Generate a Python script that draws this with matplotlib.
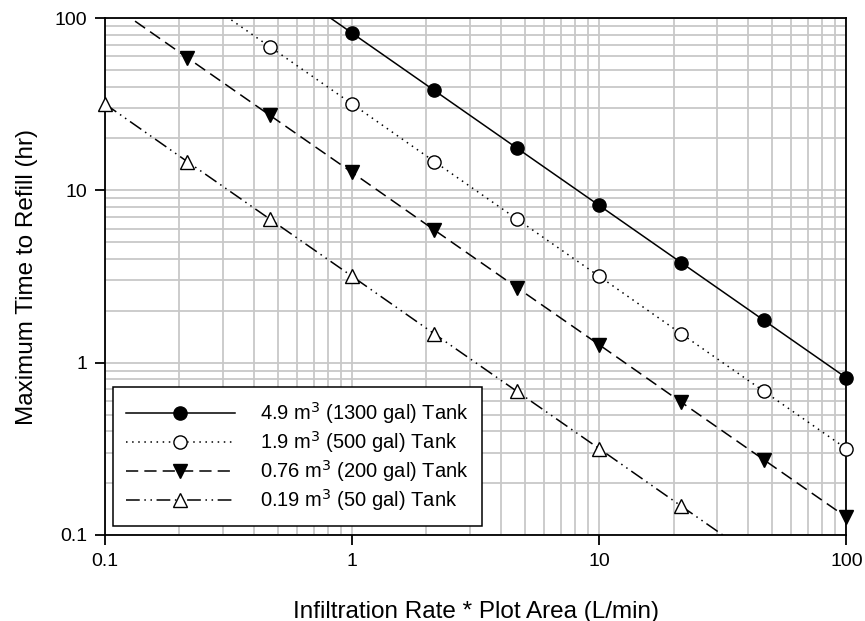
import numpy as np
import matplotlib
matplotlib.use("Agg")
import matplotlib.pyplot as plt
from matplotlib.ticker import LogLocator, NullFormatter, FixedLocator

plt.rcParams['font.family'] = ['Liberation Sans', 'DejaVu Sans']

# infiltration rate * plot area (L/min), three points per decade
flow = [0.1, 0.215, 0.464, 1.0, 2.15, 4.64, 10.0, 21.5, 46.4, 100.0]

# maximum time to refill (hr) for each tank size
t_1300 = [817, 380, 176, 81.7, 38.0, 17.6, 8.17, 3.80, 1.76, 0.817]
t_500 = [317, 147, 68.2, 31.7, 14.7, 6.82, 3.17, 1.47, 0.682, 0.317]
t_200 = [127, 58.9, 27.3, 12.7, 5.89, 2.73, 1.27, 0.589, 0.273, 0.127]
t_50 = [31.7, 14.7, 6.82, 3.17, 1.47, 0.682, 0.317, 0.147, 0.0682, 0.0317]

labels = [
    r"4.9 m$^3$ (1300 gal) Tank",
    r"1.9 m$^3$ (500 gal) Tank",
    r"0.76 m$^3$ (200 gal) Tank",
    r"0.19 m$^3$ (50 gal) Tank",
]

series = [t_1300, t_500, t_200, t_50]
styles = [
    dict(ls="-", marker="o", mfc="black"),
    dict(ls=(0, (1, 3)), marker="o", mfc="white"),
    dict(ls=(0, (8, 4)), marker="v", mfc="black"),
    dict(ls=(0, (9, 3, 1, 3, 1, 3)), marker="^", mfc="white"),
]

fig = plt.figure(figsize=(8.65, 6.21), dpi=100)
ax = fig.add_axes([0.1214, 0.1385, 0.857, 0.8325])

x = np.array(flow)
handles = []
for y, lab, st in zip(series, labels, styles):
    y = np.array(y)
    # connecting line, clipped at the axes
    ax.plot(x, y, color="black", lw=1.1, ls=st["ls"], zorder=3)
    # markers only where inside the plotted range, allowed to overhang the frame
    keep = (y >= 0.1) & (y <= 100)
    ax.plot(x[keep], y[keep], ls="none", marker=st["marker"], ms=9.5,
            mfc=st["mfc"], mec="black", mew=1.0, clip_on=False, zorder=4)
    h, = ax.plot([], [], color="black", lw=1.1, ls=st["ls"],
                 marker=st["marker"], ms=9.5, mfc=st["mfc"], mec="black",
                 mew=1.0, label=lab)
    handles.append(h)

ax.set_xscale("log")
ax.set_yscale("log")
ax.set_xlim(0.1, 100)
ax.set_ylim(0.1, 100)

ax.xaxis.set_major_locator(FixedLocator([0.1, 1, 10, 100]))
ax.yaxis.set_major_locator(FixedLocator([0.1, 1, 10, 100]))
ax.set_xticklabels(["0.1", "1", "10", "100"])
ax.set_yticklabels(["0.1", "1", "10", "100"])
for axis in (ax.xaxis, ax.yaxis):
    axis.set_minor_locator(LogLocator(base=10, subs=np.arange(2, 10)))
    axis.set_minor_formatter(NullFormatter())

ax.grid(True, which="both", color="#c8c8c8", lw=1.3, zorder=0)
ax.set_axisbelow(True)
ax.tick_params(which="major", direction="out", length=7, width=1.3,
               labelsize=14, pad=6)
ax.tick_params(which="minor", length=0)
for sp in ax.spines.values():
    sp.set_linewidth(1.3)

ax.set_xlabel("Infiltration Rate * Plot Area (L/min)", fontsize=17.5, labelpad=22)
ax.set_ylabel("Maximum Time to Refill (hr)", fontsize=17.5, labelpad=12)

leg = ax.legend(handles=handles, loc="lower left",
                bbox_to_anchor=(0.0108, 0.017), fontsize=14.5,
                handlelength=5.4, handletextpad=1.25, labelspacing=0.15,
                borderpad=0.65, borderaxespad=0, fancybox=False,
                framealpha=1, edgecolor="black")
leg.get_frame().set_linewidth(1.1)
leg.set_zorder(5)

fig.savefig("out.png", dpi=100)
